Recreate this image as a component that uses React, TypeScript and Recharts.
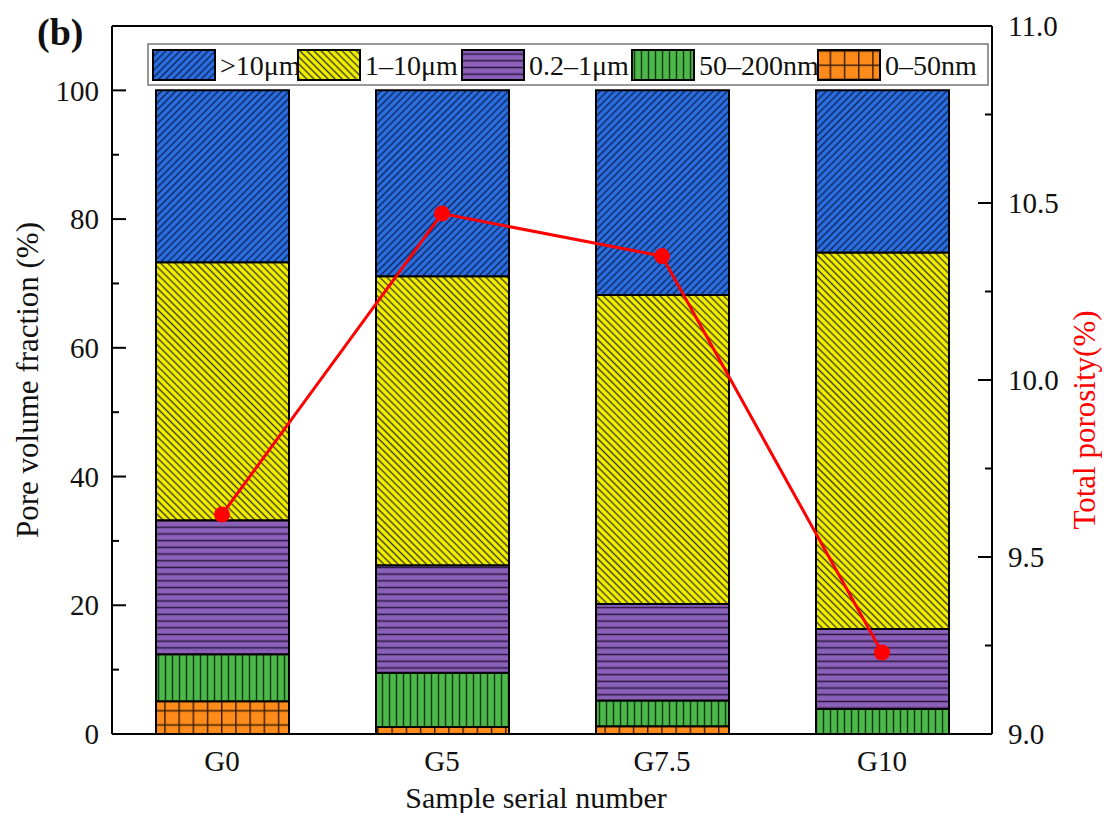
import React from 'react';
import { ComposedChart, Bar, Line, XAxis, YAxis, ReferenceLine } from 'recharts';

const categories = ['G0', 'G5', 'G7.5', 'G10'];
const pore0to50nm = [5.1, 1.1, 1.2, 0];
const pore50to200nm = [7.3, 8.4, 4.0, 3.9];
const pore02to1um = [20.8, 16.7, 15.0, 12.4];
const pore1to10um = [40.1, 44.9, 48.0, 58.5];
const poreOver10um = [26.7, 28.9, 31.8, 25.2];
const totalPorosity = [9.62, 10.47, 10.35, 9.23];

const leftTicks = [0, 10, 20, 30, 40, 50, 60, 70, 80, 90, 100];
const rightTicks = [9, 9.25, 9.5, 9.75, 10, 10.25, 10.5, 10.75, 11];

const legendItems = [
  { key: 'over10', label: '>10\u03bcm', fill: 'url(#pBlue)' },
  { key: 'um1to10', label: '1\u201310\u03bcm', fill: 'url(#pYellow)' },
  { key: 'um02to1', label: '0.2\u20131\u03bcm', fill: 'url(#pPurple)' },
  { key: 'nm50to200', label: '50\u2013200nm', fill: 'url(#pGreen)' },
  { key: 'nm0to50', label: '0\u201350nm', fill: 'url(#pOrange)' },
];
const legendSwatchX = [5, 150, 314, 484, 670];

const data = categories.map((name, i) => ({
  name,
  nm0to50: pore0to50nm[i],
  nm50to200: pore50to200nm[i],
  um02to1: pore02to1um[i],
  um1to10: pore1to10um[i],
  over10: poreOver10um[i],
  porosity: totalPorosity[i],
}));

const FONT = '"Liberation Serif", "Times New Roman", serif';
const W = 1094;
const H = 805;

const LeftTick = (props: any) => {
  const { x, y, payload } = props;
  const v = payload.value;
  const major = v % 20 === 0;
  return (
    <g>
      <line x1={x} x2={x + (major ? 14 : 7)} y1={y} y2={y} stroke="#000" strokeWidth={2} />
      {major && (
        <text x={x - 13} y={y} dy="0.35em" textAnchor="end" fontSize={29} fontFamily={FONT} fill="#111">
          {v}
        </text>
      )}
    </g>
  );
};

const RightTick = (props: any) => {
  const { x, y, payload } = props;
  const v = payload.value;
  const major = Math.abs((v * 2) - Math.round(v * 2)) < 1e-6;
  return (
    <g>
      <line x1={x} x2={x - (major ? 14 : 7)} y1={y} y2={y} stroke="#000" strokeWidth={2} />
      {major && (
        <text x={x + 16} y={y} dy="0.35em" textAnchor="start" fontSize={29} fontFamily={FONT} fill="#111">
          {v.toFixed(1)}
        </text>
      )}
    </g>
  );
};

const BottomTick = (props: any) => {
  const { x, y, payload } = props;
  return (
    <text x={x} y={y + 27} dy="0.35em" textAnchor="middle" fontSize={29} fontFamily={FONT} fill="#111">
      {payload.value}
    </text>
  );
};

const Patterns = () => (
  <defs>
    <pattern id="pBlue" patternUnits="userSpaceOnUse" width="5" height="5" patternTransform="rotate(-45)">
      <rect width="5" height="5" fill="#2c6fe2" />
      <line x1="0" y1="2.5" x2="5" y2="2.5" stroke="#0b2459" strokeWidth="1.4" />
    </pattern>
    <pattern id="pYellow" patternUnits="userSpaceOnUse" width="5" height="5" patternTransform="rotate(45)">
      <rect width="5" height="5" fill="#f6f200" />
      <line x1="0" y1="2.5" x2="5" y2="2.5" stroke="#3a3a10" strokeWidth="1.4" />
    </pattern>
    <pattern id="pPurple" patternUnits="userSpaceOnUse" width="10" height="6.7">
      <rect width="10" height="6.7" fill="#8b60b9" />
      <line x1="0" y1="3.35" x2="10" y2="3.35" stroke="#2a1740" strokeWidth="1.5" />
    </pattern>
    <pattern id="pGreen" patternUnits="userSpaceOnUse" width="7" height="10">
      <rect width="7" height="10" fill="#4cb84a" />
      <line x1="3.5" y1="0" x2="3.5" y2="10" stroke="#173a17" strokeWidth="1.5" />
    </pattern>
    <pattern id="pOrange" patternUnits="userSpaceOnUse" width="14.2" height="14.2">
      <rect width="14.2" height="14.2" fill="#ff8c1a" />
      <line x1="0.7" y1="0" x2="0.7" y2="14.2" stroke="#3a1e05" strokeWidth="1.5" />
      <line x1="0" y1="7" x2="14.2" y2="7" stroke="#3a1e05" strokeWidth="1.5" />
    </pattern>
  </defs>
);

export default function App() {
  return (
    <div style={{ position: 'relative', width: W, height: H }}>
      <ComposedChart
        width={W}
        height={H}
        data={data}
        margin={{ top: 18, right: 0, bottom: 0, left: 0 }}
      >
        <XAxis
          dataKey="name"
          height={79}
          tickLine={false}
          tickSize={0}
          tickMargin={0}
          axisLine={{ stroke: '#000', strokeWidth: 2 }}
          tick={BottomTick}
          interval={0}
        />
        <YAxis
          yAxisId="left"
          orientation="left"
          width={104}
          domain={[0, 110]}
          ticks={leftTicks}
          interval={0}
          tickLine={false}
          tickSize={0}
          tickMargin={0}
          axisLine={{ stroke: '#000', strokeWidth: 2 }}
          tick={LeftTick}
          allowDataOverflow
        />
        <YAxis
          yAxisId="right"
          orientation="right"
          width={110}
          domain={[9, 11]}
          ticks={rightTicks}
          interval={0}
          tickLine={false}
          tickSize={0}
          tickMargin={0}
          axisLine={{ stroke: '#000', strokeWidth: 2 }}
          tick={RightTick}
          allowDataOverflow
        />
        <ReferenceLine yAxisId="left" y={110} stroke="#000" strokeWidth={2} ifOverflow="visible" />
        <Bar yAxisId="left" dataKey="nm0to50" stackId="s" barSize={133} fill="url(#pOrange)" stroke="#000" strokeWidth={2} isAnimationActive={false} />
        <Bar yAxisId="left" dataKey="nm50to200" stackId="s" barSize={133} fill="url(#pGreen)" stroke="#000" strokeWidth={2} isAnimationActive={false} />
        <Bar yAxisId="left" dataKey="um02to1" stackId="s" barSize={133} fill="url(#pPurple)" stroke="#000" strokeWidth={2} isAnimationActive={false} />
        <Bar yAxisId="left" dataKey="um1to10" stackId="s" barSize={133} fill="url(#pYellow)" stroke="#000" strokeWidth={2} isAnimationActive={false} />
        <Bar yAxisId="left" dataKey="over10" stackId="s" barSize={133} fill="url(#pBlue)" stroke="#000" strokeWidth={2} isAnimationActive={false} />
        <Line
          yAxisId="right"
          dataKey="porosity"
          stroke="#ff0000"
          strokeWidth={3}
          dot={{ r: 8, fill: '#ff0000', stroke: 'none' }}
          activeDot={false}
          isAnimationActive={false}
        />
      </ComposedChart>
      <svg
        width={W}
        height={H + 8}
        style={{ position: 'absolute', left: 0, top: 0, pointerEvents: 'none', overflow: 'visible' }}
      >
        <Patterns />
        <text x={29} y={37} fontSize={38} fontWeight="bold" fontFamily={FONT} fill="#111">(b)</text>
        <text
          x={20}
          y={372}
          dy="0.32em"
          transform="rotate(-90 20 372)"
          textAnchor="middle"
          fontSize={31}
          fontFamily={FONT}
          fill="#111"
        >
          Pore volume fraction (%)
        </text>
        <text
          x={1077}
          y={412}
          dy="0.32em"
          transform="rotate(-90 1077 412)"
          textAnchor="middle"
          fontSize={31}
          fontFamily={FONT}
          fill="#ff0000"
        >
          Total porosity(%)
        </text>
        <text x={528} y={790} dy="0.32em" textAnchor="middle" fontSize={30} fontFamily={FONT} fill="#111">
          Sample serial number
        </text>
        <g transform="translate(140 36)">
          <rect x={0} y={0} width={840} height={41} fill="#fff" stroke="#777" strokeWidth={1.5} />
          {legendItems.map((it, i) => (
            <g key={it.key}>
              <rect x={legendSwatchX[i]} y={6} width={62} height={30} fill={it.fill} stroke="#000" strokeWidth={2} />
              <text x={legendSwatchX[i] + 67} y={21} dy="0.35em" fontSize={28} fontFamily={FONT} fill="#111">
                {it.label}
              </text>
            </g>
          ))}
        </g>
      </svg>
    </div>
  );
}
